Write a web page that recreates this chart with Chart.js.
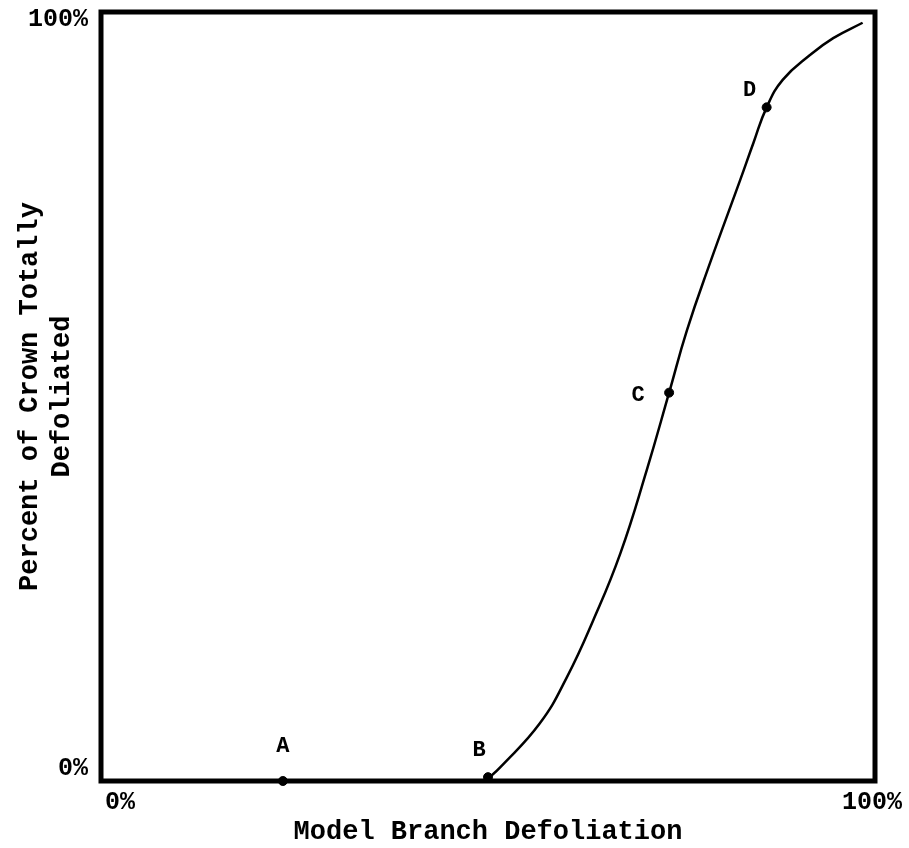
<!DOCTYPE html>
<html>
<head>
<meta charset="utf-8">
<script src="https://cdn.jsdelivr.net/npm/chart.js@4"></script>
<style>
  html, body { margin: 0; padding: 0; background: #fff; }
  #wrap { width: 909px; height: 848px; }
</style>
</head>
<body>
<div id="wrap"><canvas id="chart" width="909" height="848"></canvas></div>
<script>
// Data (percent)
const curveX = [50, 51.6, 56.7, 60.2, 63.6, 67.1, 70.5, 73.4, 75.7, 78.7, 82.6, 84.3, 86.0, 88.1, 91.6, 94.6, 98.4];
const curveY = [0.3, 1.8, 7.5, 13.5, 20.9, 29.6, 40.4, 50.5, 58.6, 67.4, 78.2, 83.0, 87.6, 91.2, 94.4, 96.6, 98.6];

const pointNames = ['A', 'B', 'C', 'D'];
const pointX = [23.5, 50, 73.4, 86.0];
const pointY = [0, 0.5, 50.5, 87.6];

const xTickLabels = ['0%', '100%'];
const yTickLabels = ['0%', '100%'];
const tickValues = [0, 100];

const xTitle = 'Model Branch Defoliation';
const yTitle = ['Percent of Crown Totally', 'Defoliated'];

const FONT = "'Liberation Mono', 'DejaVu Sans Mono', monospace";

// thick box around the plot area (drawn under the curve and dots)
const framePlugin = {
  id: 'frame',
  beforeDatasetsDraw(chart) {
    const { ctx, chartArea } = chart;
    ctx.save();
    ctx.strokeStyle = '#000';
    ctx.lineWidth = 5;
    ctx.strokeRect(chartArea.left, chartArea.top,
      chartArea.right - chartArea.left, chartArea.bottom - chartArea.top);
    ctx.restore();
  }
};

// the 0% / 100% labels sit a little off their ticks in the original
const tickLabelPlugin = {
  id: 'tickLabels',
  afterDraw(chart, args, opts) {
    const { ctx, scales } = chart;
    ctx.save();
    ctx.font = 'bold 25px ' + FONT;
    ctx.fillStyle = '#000';
    ctx.textBaseline = 'middle';
    tickValues.forEach((v, i) => {
      const xo = opts.x[i], yo = opts.y[i];
      ctx.textAlign = 'center';
      ctx.fillText(xTickLabels[i], scales.x.getPixelForValue(v) + xo, scales.y.bottom + 22);
      ctx.textAlign = 'right';
      ctx.fillText(yTickLabels[i], scales.y.right - 13, scales.y.getPixelForValue(v) + yo);
    });
    ctx.restore();
  }
};

// letters next to the marked points
const letterPlugin = {
  id: 'letters',
  afterDatasetsDraw(chart, args, opts) {
    const { ctx } = chart;
    const meta = chart.getDatasetMeta(1);
    ctx.save();
    ctx.font = 'bold 22px ' + FONT;
    ctx.fillStyle = '#000';
    ctx.textAlign = 'center';
    ctx.textBaseline = 'middle';
    meta.data.forEach((pt, i) => {
      const off = opts.offsets[i];
      ctx.fillText(pointNames[i], pt.x + off[0], pt.y + off[1]);
    });
    ctx.restore();
  }
};

const ctx = document.getElementById('chart').getContext('2d');
new Chart(ctx, {
  type: 'scatter',
  data: {
    datasets: [{
      label: 'curve',
      data: curveX.map((x, i) => ({ x, y: curveY[i] })),
      showLine: true,
      borderColor: '#000',
      borderWidth: 2.5,
      pointRadius: 0,
      tension: 0.45,
      fill: false
    }, {
      label: 'points',
      data: pointX.map((x, i) => ({ x, y: pointY[i] })),
      showLine: false,
      pointRadius: 4.5,
      pointBackgroundColor: '#000',
      pointBorderColor: '#000'
    }]
  },
  options: {
    responsive: false,
    animation: false,
    clip: false,
    layout: { padding: { top: 12, right: 34, left: 0, bottom: 0 } },
    plugins: {
      legend: { display: false },
      tooltip: { enabled: false },
      letters: { offsets: [[0, -35], [-9, -27], [-31, 3], [-17, -17]] },
      tickLabels: { x: [19, -3], y: [-12, 8] }
    },
    scales: {
      x: {
        type: 'linear',
        min: 0, max: 100,
        grid: { display: false, drawTicks: false },
        border: { display: false },
        afterBuildTicks: (s) => { s.ticks = tickValues.map(v => ({ value: v })); },
        afterFit: (s) => { s.height = 67; s.paddingLeft = 0; s.paddingRight = 0; },
        ticks: { display: false },
        title: {
          display: true,
          text: xTitle,
          color: '#000',
          font: { family: FONT, size: 27, weight: 'bold' },
          padding: { top: 0, bottom: 0 }
        }
      },
      y: {
        type: 'linear',
        min: 0, max: 100,
        grid: { display: false, drawTicks: false },
        border: { display: false },
        afterBuildTicks: (s) => { s.ticks = tickValues.map(v => ({ value: v })); },
        afterFit: (s) => { s.width = 101; s.paddingTop = 0; s.paddingBottom = 0; },
        ticks: { display: false },
        title: {
          display: true,
          text: yTitle,
          color: '#000',
          font: { family: FONT, size: 27, weight: 'bold' },
          padding: { top: 14, bottom: 0 }
        }
      }
    }
  },
  plugins: [framePlugin, letterPlugin, tickLabelPlugin]
});
</script>
</body>
</html>
